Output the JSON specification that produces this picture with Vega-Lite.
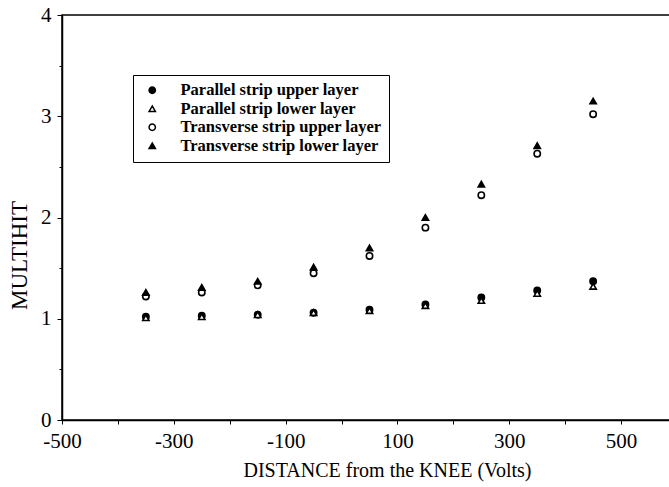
{
  "$schema": "https://vega.github.io/schema/vega-lite/v6.json",
  "width": 615,
  "height": 405,
  "autosize": "none",
  "padding": {"left": 62, "top": 15, "right": 0, "bottom": 67},
  "background": "white",
  "config": {
    "view": {"stroke": "black", "strokeWidth": 1.5},
    "font": "Liberation Serif",
    "axis": {"grid": false, "domainColor": "black", "domainWidth": 1.5, "tickColor": "black", "labelColor": "black", "titleColor": "black", "labelFont": "Liberation Serif", "titleFont": "Liberation Serif", "titleFontWeight": "normal"}
  },
  "data": {
    "values": [
      {"series": "Parallel strip upper layer", "x": -350, "y": 1.02},
      {"series": "Parallel strip upper layer", "x": -250, "y": 1.03},
      {"series": "Parallel strip upper layer", "x": -150, "y": 1.04},
      {"series": "Parallel strip upper layer", "x": -50, "y": 1.06},
      {"series": "Parallel strip upper layer", "x": 50, "y": 1.09},
      {"series": "Parallel strip upper layer", "x": 150, "y": 1.14},
      {"series": "Parallel strip upper layer", "x": 250, "y": 1.21},
      {"series": "Parallel strip upper layer", "x": 350, "y": 1.28},
      {"series": "Parallel strip upper layer", "x": 450, "y": 1.37},
      {"series": "Parallel strip lower layer", "x": -350, "y": 1.01},
      {"series": "Parallel strip lower layer", "x": -250, "y": 1.02},
      {"series": "Parallel strip lower layer", "x": -150, "y": 1.04},
      {"series": "Parallel strip lower layer", "x": -50, "y": 1.06},
      {"series": "Parallel strip lower layer", "x": 50, "y": 1.08},
      {"series": "Parallel strip lower layer", "x": 150, "y": 1.13},
      {"series": "Parallel strip lower layer", "x": 250, "y": 1.18},
      {"series": "Parallel strip lower layer", "x": 350, "y": 1.25},
      {"series": "Parallel strip lower layer", "x": 450, "y": 1.32},
      {"series": "Transverse strip upper layer", "x": -350, "y": 1.22},
      {"series": "Transverse strip upper layer", "x": -250, "y": 1.26},
      {"series": "Transverse strip upper layer", "x": -150, "y": 1.33},
      {"series": "Transverse strip upper layer", "x": -50, "y": 1.45},
      {"series": "Transverse strip upper layer", "x": 50, "y": 1.62},
      {"series": "Transverse strip upper layer", "x": 150, "y": 1.90},
      {"series": "Transverse strip upper layer", "x": 250, "y": 2.22},
      {"series": "Transverse strip upper layer", "x": 350, "y": 2.63},
      {"series": "Transverse strip upper layer", "x": 450, "y": 3.02},
      {"series": "Transverse strip lower layer", "x": -350, "y": 1.26},
      {"series": "Transverse strip lower layer", "x": -250, "y": 1.31},
      {"series": "Transverse strip lower layer", "x": -150, "y": 1.37},
      {"series": "Transverse strip lower layer", "x": -50, "y": 1.51},
      {"series": "Transverse strip lower layer", "x": 50, "y": 1.70},
      {"series": "Transverse strip lower layer", "x": 150, "y": 2.00},
      {"series": "Transverse strip lower layer", "x": 250, "y": 2.33},
      {"series": "Transverse strip lower layer", "x": 350, "y": 2.71},
      {"series": "Transverse strip lower layer", "x": 450, "y": 3.15}
    ]
  },
  "mark": {"type": "point", "filled": true, "stroke": "black", "strokeWidth": 1.6, "opacity": 1, "fillOpacity": 1, "size": 40},
  "encoding": {
    "x": {
      "field": "x", "type": "quantitative",
      "scale": {"domain": [-500, 600], "nice": false, "zero": false},
      "axis": {
        "title": "DISTANCE from the KNEE (Volts)",
        "titleFontSize": 20,
        "titleX": 325, "titleY": 56, "titleBaseline": "alphabetic", "titleAnchor": "middle",
        "values": [-500, -400, -300, -200, -100, 0, 100, 200, 300, 400, 500],
        "labelExpr": "(datum.value + 500) % 200 === 0 ? '' + datum.value : ''",
        "labelFontSize": 21, "labelPadding": 6, "labelFlush": false, "labelOverlap": false,
        "tickSize": 4
      }
    },
    "y": {
      "field": "y", "type": "quantitative",
      "scale": {"domain": [0, 4], "nice": false},
      "axis": {
        "title": "MULTIHIT",
        "titleFontSize": 23,
        "titleX": -43, "titleY": 240, "titleBaseline": "middle", "titleAnchor": "middle",
        "values": [0, 0.5, 1, 1.5, 2, 2.5, 3, 3.5, 4],
        "labelExpr": "datum.value % 1 === 0 ? '' + datum.value : ''",
        "labelFontSize": 21, "labelPadding": 6, "labelFlush": false, "labelOverlap": false,
        "tickSize": {"condition": {"test": "datum.value % 1 === 0", "value": 5}, "value": 3}
      }
    },
    "shape": {
      "field": "series", "type": "nominal",
      "scale": {
        "domain": ["Parallel strip upper layer", "Parallel strip lower layer", "Transverse strip upper layer", "Transverse strip lower layer"],
        "range": ["circle", "triangle-up", "circle", "triangle-up"]
      },
      "legend": {
        "title": null, "orient": "none", "legendX": 71, "legendY": 60,
        "strokeColor": "black", "fillColor": "white", "padding": 7,
        "labelFontSize": 16.5, "labelFontWeight": "bold", "labelFont": "Liberation Serif", "labelColor": "black",
        "symbolSize": 40, "symbolOffset": 4,
        "labelOffset": 20, "rowPadding": 1.5, "labelLimit": 400,
        "encode": {
          "legend": {"update": {"strokeWidth": {"value": 1.8}}},
          "symbols": {"update": {"stroke": {"value": "black"}, "strokeWidth": {"value": 1.5}}}
        }
      }
    },
    "fill": {
      "field": "series", "type": "nominal",
      "scale": {
        "domain": ["Parallel strip upper layer", "Parallel strip lower layer", "Transverse strip upper layer", "Transverse strip lower layer"],
        "range": ["black", "white", "white", "black"]
      },
      "legend": {
        "title": null, "orient": "none", "legendX": 71, "legendY": 60,
        "strokeColor": "black", "fillColor": "white", "padding": 7,
        "labelFontSize": 16.5, "labelFontWeight": "bold", "labelFont": "Liberation Serif", "labelColor": "black",
        "symbolSize": 40, "symbolOffset": 4,
        "labelOffset": 20, "rowPadding": 1.5, "labelLimit": 400,
        "encode": {
          "legend": {"update": {"strokeWidth": {"value": 1.8}}},
          "symbols": {"update": {"stroke": {"value": "black"}, "strokeWidth": {"value": 1.5}}}
        }
      }
    }
  }
}
